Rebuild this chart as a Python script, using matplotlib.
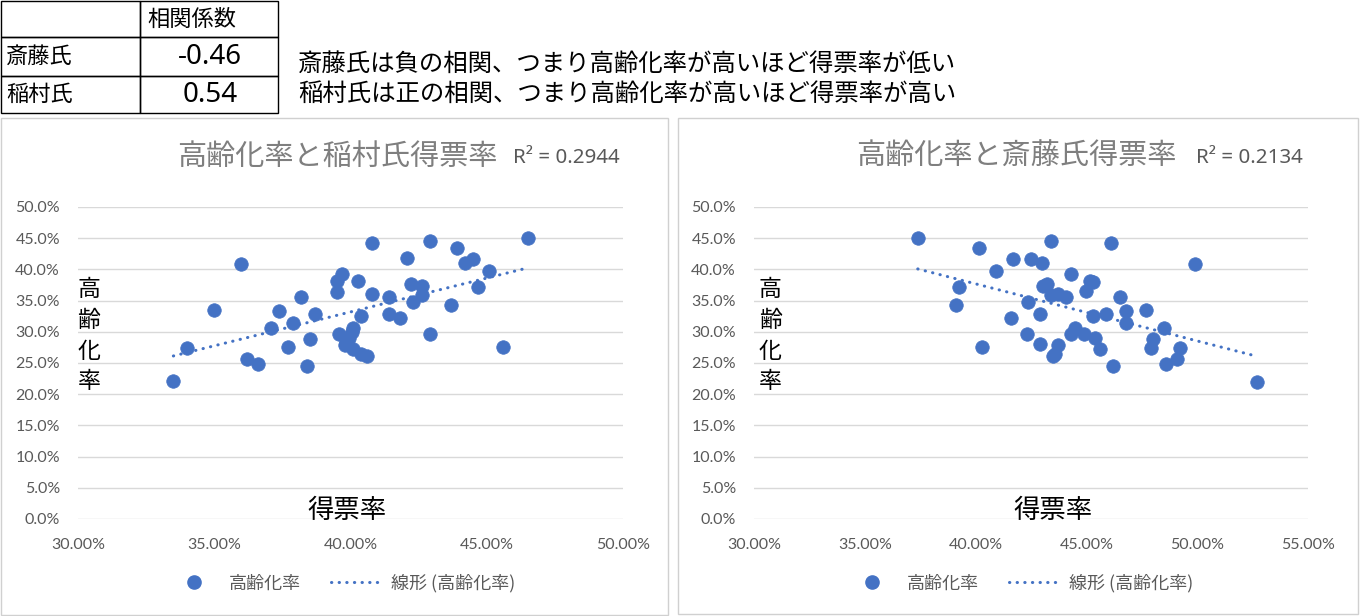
import numpy as np
import matplotlib
matplotlib.use("Agg")
import matplotlib.pyplot as plt
from matplotlib.patches import Rectangle
from matplotlib.lines import Line2D

plt.rcParams['font.family'] = ['Noto Sans CJK JP', 'DejaVu Sans']

# ---------------- data ----------------
# 稲村氏 chart: x = 得票率 (%), y = 高齢化率 (%)
inamura_vote = [46.50, 42.90, 40.80, 43.90, 42.08, 44.49, 44.19, 35.98, 45.08, 39.69,
                39.51, 40.28, 42.21, 42.61, 44.69, 39.51, 40.80, 38.20, 41.41, 42.61,
                42.31, 43.70, 35.00, 37.38, 38.70, 41.41, 40.39, 41.80, 37.89, 37.10,
                40.10, 40.06, 39.58, 42.90, 39.96, 38.50, 39.85, 39.79, 37.71, 45.59,
                34.00, 40.10, 40.39, 40.61, 36.20, 36.59, 38.41, 33.50]
inamura_aging = [45.10, 44.50, 44.30, 43.50, 41.80, 41.70, 41.00, 40.80, 39.80, 39.30,
                 38.10, 38.20, 37.70, 37.30, 37.15, 36.40, 36.00, 35.55, 35.55, 35.90,
                 34.76, 34.24, 33.44, 33.33, 32.80, 32.80, 32.48, 32.26, 31.37, 30.67,
                 30.57, 29.98, 29.62, 29.62, 29.03, 28.87, 28.23, 27.87, 27.60, 27.60,
                 27.48, 27.23, 26.43, 26.05, 25.68, 24.84, 24.52, 22.18]

# 斎藤氏 chart
saito_vote = [37.39, 40.17, 43.39, 41.67, 42.50, 42.98, 40.91, 44.29, 39.26, 43.06,
              43.21, 43.39, 43.73, 44.08, 39.12, 42.38, 42.91, 41.60, 44.49, 44.29,
              42.31, 42.91, 43.73, 40.29, 43.58, 43.48, 46.11, 49.89, 45.16, 45.31,
              44.97, 46.52, 46.77, 45.88, 45.28, 47.69, 46.77, 48.50, 44.89, 45.39,
              47.99, 45.61, 47.90, 49.22, 49.07, 48.59, 46.19, 52.68]
saito_aging = [45.10, 43.50, 44.50, 41.70, 41.65, 41.00, 39.80, 39.27, 37.15, 37.30,
               37.68, 35.88, 36.08, 35.56, 34.24, 34.76, 32.80, 32.26, 30.57, 29.62,
               29.62, 28.03, 27.87, 27.60, 26.43, 26.05, 44.30, 40.80, 38.20, 38.00,
               36.47, 35.56, 33.33, 32.80, 32.48, 33.44, 31.37, 30.67, 29.71, 28.98,
               28.87, 27.23, 27.48, 27.39, 25.68, 24.84, 24.52, 21.90]

table_header = "相関係数"
table_names = ["斎藤氏", "稲村氏"]
table_values = ["-0.46", "0.54"]
notes = ["斎藤氏は負の相関、つまり高齢化率が高いほど得票率が低い",
         "稲村氏は正の相関、つまり高齢化率が高いほど得票率が高い"]

titles = ["高齢化率と稲村氏得票率", "高齢化率と斎藤氏得票率"]
r2_texts = ["R² = 0.2944", "R² = 0.2134"]
x_ticks_left = [30, 35, 40, 45, 50]
x_ticks_right = [30, 35, 40, 45, 50, 55]
y_ticks = [0, 5, 10, 15, 20, 25, 30, 35, 40, 45, 50]
series_label = "高齢化率"
trend_label = "線形 (高齢化率)"
y_axis_label = "高齢化率"
x_axis_label = "得票率"

# ---------------- layout ----------------
W, H = 1360, 616
fig = plt.figure(figsize=(W / 100, H / 100), dpi=100)
fig.patch.set_facecolor('white')

def fx(x):
    return x / W

def fy(y):
    return 1 - y / H

BLUE = '#4472C4'
GRID = '#D9D9D9'
TICK = '#595959'
TITLE = '#7F7F7F'
DOTS = (0, (0.1, 2.4))

# Table
col_x = [1, 140, 278]
row_y = [1, 37, 76, 113]
for i in range(3):
    for j in range(2):
        fig.add_artist(Rectangle((fx(col_x[j]), fy(row_y[i + 1])),
                                 fx(col_x[j + 1] - col_x[j]), (row_y[i + 1] - row_y[i]) / H,
                                 transform=fig.transFigure, fill=False,
                                 edgecolor='black', linewidth=1.0))
fig.text(fx(147), fy(19), table_header, fontsize=16, va='center', ha='left', color='black')
for k in range(2):
    yc = (row_y[k + 1] + row_y[k + 2]) / 2
    fig.text(fx(6), fy(yc), table_names[k], fontsize=16, va='center', ha='left', color='black')
    fig.text(fx(210), fy(yc), table_values[k], fontsize=20, va='center', ha='center',
             color='black', family=['Noto Sans', 'DejaVu Sans'])

fig.text(fx(298), fy(64), notes[0], fontsize=17.6, va='center', ha='left', color='black')
fig.text(fx(298), fy(94), notes[1], fontsize=17.6, va='center', ha='left', color='black')

# Chart boxes
for (x0, x1, y0, y1) in [(1, 668, 118, 615), (678, 1358, 118, 614)]:
    fig.add_artist(Rectangle((fx(x0), fy(y1)), fx(x1 - x0), (y1 - y0) / H,
                             transform=fig.transFigure, fill=False,
                             edgecolor='#D0D0D0', linewidth=1.0))

charts = [
    dict(x=inamura_vote, y=inamura_aging, ax_px=(78, 623), xlim=(30, 50), xt=x_ticks_left,
         title=titles[0], r2=r2_texts[0], title_x=337, r2_x=513, ylab_x=89, xlab_x=347,
         leg_x=342),
    dict(x=saito_vote, y=saito_aging, ax_px=(754, 1308), xlim=(30, 55), xt=x_ticks_right,
         title=titles[1], r2=r2_texts[1], title_x=1016, r2_x=1196, ylab_x=770, xlab_x=1053,
         leg_x=1020),
]

for c in charts:
    x0, x1 = c['ax_px']
    ax = fig.add_axes([fx(x0), fy(519), fx(x1 - x0), (519 - 207) / H])
    ax.set_xlim(*c['xlim'])
    ax.set_ylim(0, 50)
    for s in ax.spines.values():
        s.set_visible(False)
    ax.set_yticks(y_ticks)
    ax.set_xticks(c['xt'])
    ax.set_yticklabels([f"{v:.1f}%" for v in y_ticks])
    ax.set_xticklabels([f"{v:.2f}%" for v in c['xt']])
    ax.tick_params(axis='both', length=0, colors=TICK, labelsize=11.5)
    ax.tick_params(axis='y', pad=13)
    ax.tick_params(axis='x', pad=14)
    for lab in ax.get_xticklabels() + ax.get_yticklabels():
        lab.set_family(['Lato', 'DejaVu Sans'])
    ax.grid(axis='y', color=GRID, linewidth=1.0)
    ax.set_axisbelow(True)
    ax.patch.set_alpha(0)

    xs = np.array(c['x'])
    ys = np.array(c['y'])
    ax.scatter(xs, ys, s=95, color=BLUE, edgecolor=BLUE, linewidth=0.5, zorder=3,
               clip_on=False)
    m, b = np.polyfit(xs, ys, 1)
    xl = np.array([xs.min(), xs.max()])
    ax.plot(xl, m * xl + b, color=BLUE, linewidth=2.2, linestyle=DOTS,
            dash_capstyle='round', zorder=4)

    fig.text(fx(c['title_x']), fy(157), c['title'], fontsize=21, color=TITLE,
             ha='center', va='center')
    fig.text(fx(c['r2_x']), fy(158), c['r2'], fontsize=14.8, color=TICK, ha='left',
             va='center', family=['Noto Sans', 'DejaVu Sans'])

    for k, ch in enumerate(y_axis_label):
        fig.text(fx(c['ylab_x']), fy(290 + 30.5 * k), ch, fontsize=16.5, color='black',
                 ha='center', va='center')
    fig.text(fx(c['xlab_x']), fy(510), x_axis_label, fontsize=19, color='black',
             ha='center', va='center')

    handles = [Line2D([], [], marker='o', linestyle='none', markersize=9.5,
                      markerfacecolor=BLUE, markeredgecolor=BLUE),
               Line2D([], [], color=BLUE, linewidth=2.2, linestyle=DOTS,
                      dash_capstyle='round')]
    leg = fig.legend(handles, [series_label, trend_label], loc='center',
                     bbox_to_anchor=(fx(c['leg_x']), fy(583)), ncol=2, frameon=False,
                     fontsize=13, handlelength=2.8, columnspacing=1.65,
                     handletextpad=0.55)
    for t in leg.get_texts():
        t.set_color(TICK)

fig.savefig("out.png", dpi=100, facecolor='white')
